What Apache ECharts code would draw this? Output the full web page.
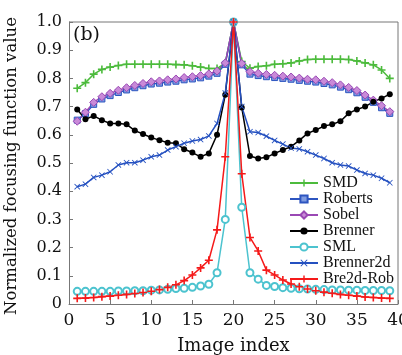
<!DOCTYPE html>
<html>
<head>
<meta charset="utf-8">
<script src="https://cdn.jsdelivr.net/npm/echarts@6/dist/echarts.min.js"></script>
<style>
  html, body { margin: 0; padding: 0; background: #fff; }
  #chart { width: 402px; height: 355px; }
</style>
</head>
<body>
<div id="chart"></div>
<script>
// image index 1..39
const imageIndex = Array.from({ length: 39 }, (_, i) => i + 1)

const smd = [0.765, 0.785, 0.815, 0.832, 0.840, 0.846, 0.850, 0.850, 0.850, 0.850,
  0.850, 0.850, 0.849, 0.848, 0.845, 0.840, 0.835, 0.835, 0.855, 1.0,
  0.860, 0.836, 0.842, 0.845, 0.850, 0.852, 0.855, 0.862, 0.867, 0.868,
  0.868, 0.868, 0.868, 0.867, 0.862, 0.855, 0.848, 0.830, 0.800]

const roberts = [0.652, 0.675, 0.708, 0.727, 0.739, 0.750, 0.759, 0.767, 0.774, 0.780,
  0.783, 0.787, 0.790, 0.795, 0.798, 0.802, 0.808, 0.818, 0.850, 1.0,
  0.848, 0.815, 0.810, 0.806, 0.803, 0.800, 0.797, 0.793, 0.790, 0.787,
  0.782, 0.777, 0.769, 0.760, 0.749, 0.733, 0.715, 0.696, 0.676]

const sobel = [0.648, 0.680, 0.715, 0.735, 0.747, 0.758, 0.767, 0.775, 0.782, 0.788,
  0.791, 0.795, 0.798, 0.803, 0.806, 0.810, 0.816, 0.826, 0.855, 1.0,
  0.853, 0.824, 0.818, 0.814, 0.811, 0.808, 0.805, 0.801, 0.797, 0.795,
  0.790, 0.785, 0.777, 0.768, 0.757, 0.741, 0.723, 0.703, 0.682]

const brenner = [0.690, 0.655, 0.667, 0.652, 0.640, 0.640, 0.637, 0.615, 0.603, 0.590,
  0.581, 0.572, 0.570, 0.549, 0.537, 0.522, 0.534, 0.600, 0.742, 1.0,
  0.697, 0.525, 0.516, 0.520, 0.534, 0.546, 0.558, 0.580, 0.605, 0.617,
  0.631, 0.637, 0.648, 0.676, 0.690, 0.700, 0.717, 0.729, 0.744]

const sml = [0.045, 0.045, 0.045, 0.045, 0.045, 0.046, 0.046, 0.047, 0.047, 0.049,
  0.050, 0.052, 0.055, 0.056, 0.059, 0.064, 0.070, 0.111, 0.300, 1.0,
  0.343, 0.111, 0.088, 0.066, 0.062, 0.058, 0.056, 0.054, 0.053, 0.052,
  0.051, 0.050, 0.050, 0.049, 0.049, 0.048, 0.048, 0.048, 0.047]

const brenner2d = [0.416, 0.425, 0.449, 0.457, 0.469, 0.493, 0.501, 0.501, 0.510, 0.522,
  0.528, 0.546, 0.558, 0.570, 0.578, 0.583, 0.596, 0.640, 0.748, 1.0,
  0.700, 0.611, 0.608, 0.595, 0.580, 0.567, 0.553, 0.550, 0.540, 0.528,
  0.516, 0.501, 0.493, 0.489, 0.475, 0.463, 0.457, 0.446, 0.430]

const bre2dRob = [0.020, 0.021, 0.023, 0.026, 0.028, 0.031, 0.034, 0.037, 0.041, 0.045,
  0.051, 0.059, 0.068, 0.083, 0.103, 0.128, 0.155, 0.263, 0.522, 1.0,
  0.462, 0.236, 0.188, 0.120, 0.103, 0.085, 0.071, 0.061, 0.053, 0.047,
  0.042, 0.038, 0.034, 0.031, 0.028, 0.025, 0.023, 0.021, 0.020]

const SERIF = 'DejaVu Serif'

// 标记符号
const PLUS = 'path://M4,0h2v4h4v2h-4v4h-2v-4h-4v-2h4z'
const CROSS = 'path://M0,1L1,0L5,4L9,0L10,1L6,5L10,9L9,10L5,6L1,10L0,9L4,5Z'

const pairs = (arr) => arr.map((v, i) => [imageIndex[i], v])

const makeSeries = (name, data, color, symbol, size, itemStyle) => ({
  name,
  type: 'line',
  data: pairs(data),
  symbol,
  symbolSize: size,
  showAllSymbol: true,
  lineStyle: { color, width: 1.5 },
  itemStyle: Object.assign({ color }, itemStyle || {}),
  emphasis: { disabled: true },
  animation: false
})

const chart = echarts.init(document.getElementById('chart'))

const option = {
  animation: false,
  grid: { left: 69, right: 4, top: 22, bottom: 51, containLabel: false, outerBoundsMode: 'none' },
  legend: {
    orient: 'vertical',
    left: 284,
    top: 170,
    itemWidth: 28,
    itemHeight: 9,
    itemGap: 0,
    textStyle: { fontFamily: 'Liberation Serif', fontSize: 16, lineHeight: 16, color: '#111' },
    data: ['SMD', 'Roberts', 'Sobel', 'Brenner', 'SML', 'Brenner2d', 'Bre2d-Rob']
  },
  xAxis: {
    type: 'value',
    min: 0,
    max: 40,
    interval: 5,
    name: 'Image index',
    nameLocation: 'middle',
    nameGap: 33,
    nameTextStyle: { fontFamily: SERIF, fontSize: 18, color: '#111' },
    axisLine: { onZero: false, lineStyle: { color: '#777', width: 1 } },
    axisTick: { inside: true, length: 4, lineStyle: { color: '#777' } },
    axisLabel: { fontFamily: SERIF, fontSize: 17, color: '#111', margin: 8, hideOverlap: false },
    splitLine: { show: false }
  },
  yAxis: {
    type: 'value',
    min: 0,
    max: 1,
    interval: 0.1,
    axisLine: { show: true, lineStyle: { color: '#777', width: 1 } },
    axisTick: { show: true, inside: true, length: 4, lineStyle: { color: '#777' } },
    axisLabel: {
      fontFamily: SERIF,
      fontSize: 16,
      color: '#111',
      margin: 7,
      formatter: (v) => (v === 0 ? '0' : v.toFixed(1))
    },
    splitLine: { show: false }
  },
  series: [
    makeSeries('SMD', smd, '#4cbb3c', PLUS, 8),
    makeSeries('Roberts', roberts, '#2d55c0', 'rect', 6, { color: '#7f9be0', borderColor: '#2d55c0', borderWidth: 1 }),
    makeSeries('Sobel', sobel, '#9a48b4', 'diamond', 8, { color: '#c98ad8', borderColor: '#9a48b4', borderWidth: 1 }),
    makeSeries('Brenner', brenner, '#000000', 'circle', 6),
    makeSeries('SML', sml, '#4cc3cf', 'emptyCircle', 7, { borderWidth: 2 }),
    makeSeries('Brenner2d', brenner2d, '#2450c0', CROSS, 6),
    makeSeries('Bre2d-Rob', bre2dRob, '#f51a1a', PLUS, 8)
  ]
}

chart.setOption(option)

// 右侧和顶部边框 + 纵轴标题
const x0 = chart.convertToPixel({ xAxisIndex: 0 }, 0)
const x1 = chart.convertToPixel({ xAxisIndex: 0 }, 40)
const y0 = chart.convertToPixel({ yAxisIndex: 0 }, 0)
const y1 = chart.convertToPixel({ yAxisIndex: 0 }, 1)
chart.setOption({
  graphic: [
    {
      type: 'text',
      left: 73,
      top: 26,
      style: { text: '(b)', font: '19px "DejaVu Serif"', fill: '#111' }
    },
    {
      type: 'text',
      x: 12,
      y: 166,
      rotation: Math.PI / 2,
      style: {
        text: 'Normalized focusing function value',
        font: '16.5px "DejaVu Serif"',
        fill: '#111',
        align: 'center',
        verticalAlign: 'middle'
      }
    },
    {
      type: 'polyline',
      silent: true,
      shape: { points: [[x0, y1], [x1, y1], [x1, y0]] },
      style: { stroke: '#777', lineWidth: 1, fill: null }
    }
  ]
})
</script>
</body>
</html>
